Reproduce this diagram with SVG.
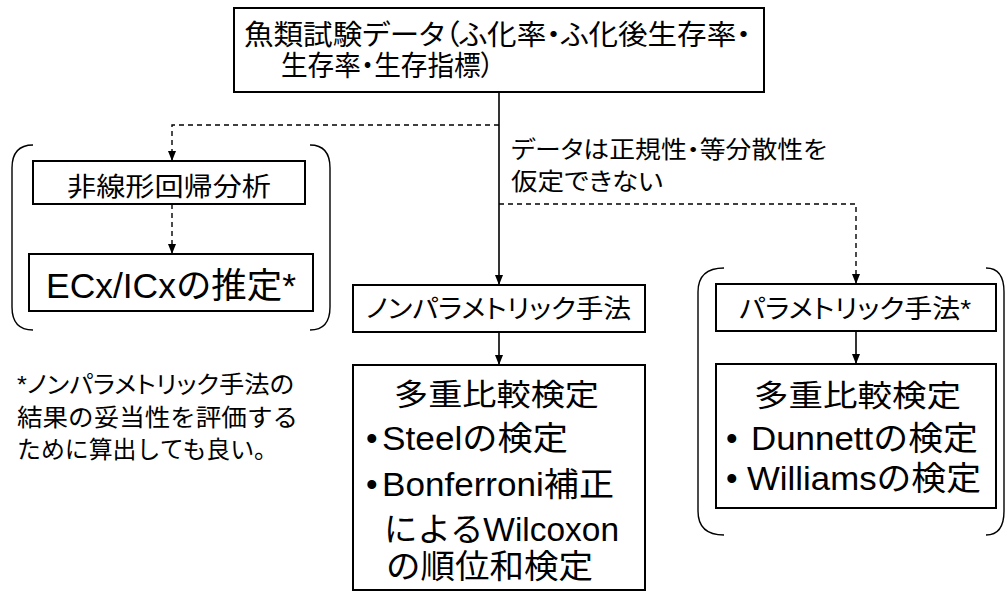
<svg xmlns="http://www.w3.org/2000/svg" width="1006" height="592" viewBox="0 0 1006 592">
<defs>
<marker id="ah" viewBox="0 0 10 8" refX="10" refY="4" markerWidth="10" markerHeight="8" markerUnits="userSpaceOnUse" orient="auto">
<path d="M0,0 L10,4 L0,8 Z" fill="#000"/>
</marker>
<style>
text{font-family:"Liberation Sans","Noto Sans CJK JP",sans-serif;fill:#000}
.box{fill:#fff;stroke:#000;stroke-width:2}
.ln{fill:none;stroke:#000;stroke-width:1.6}
.dash{fill:none;stroke:#000;stroke-width:1.4;stroke-dasharray:5,4}
.br{fill:none;stroke:#000;stroke-width:1.4}
.p{font-feature-settings:"palt"}
</style>
</defs>
<rect width="1006" height="592" fill="#fff"/>
<g id="connectors">
<line class="ln" x1="499" y1="92" x2="499" y2="285" marker-end="url(#ah)"/>
<polyline class="dash" points="499,125 172,125 172,161" marker-end="url(#ah)"/>
<line class="dash" x1="172" y1="204" x2="172" y2="254" marker-end="url(#ah)"/>
<polyline class="dash" points="499,204 856,204 856,284" marker-end="url(#ah)"/>
<line class="ln" x1="499" y1="332" x2="499" y2="365" marker-end="url(#ah)"/>
<line class="ln" x1="856" y1="331" x2="856" y2="364" marker-end="url(#ah)"/>
</g>
<g id="label">
<text x="511" y="158" font-size="24" textLength="316" lengthAdjust="spacingAndGlyphs" class="p">データは正規性・等分散性を</text>
<text x="511" y="190" font-size="24" textLength="152" lengthAdjust="spacingAndGlyphs" class="p">仮定できない</text>
</g>
<g id="brackets">
<path class="br" d="M33,145 Q12,145 12,168 L12,307 Q12,330 33,330"/>
<path class="br" d="M310,145 Q330,145 330,168 L330,307 Q330,330 310,330"/>
<path class="br" d="M724,268 Q698,268 698,292 L698,511 Q698,535 724,535"/>
<path class="br" d="M986,268 Q1004,268 1004,292 L1004,511 Q1004,535 986,535"/>
</g>
<g id="n-top">
<rect class="box" x="234" y="8" width="530" height="84"/>
<text x="244" y="45" font-size="28" textLength="507" lengthAdjust="spacingAndGlyphs" class="p">魚類試験データ（ふ化率・ふ化後生存率・</text>
<text x="281" y="76" font-size="28" textLength="213" lengthAdjust="spacingAndGlyphs" class="p">生存率・生存指標）</text>
</g>
<g id="n-nonlinear">
<rect class="box" x="33" y="161" width="272" height="43"/>
<text x="67" y="196" font-size="26" textLength="204" lengthAdjust="spacingAndGlyphs">非線形回帰分析</text>
</g>
<g id="n-ecx">
<rect class="box" x="29" y="254" width="284" height="57"/>
<text x="46" y="298" font-size="35" textLength="250" lengthAdjust="spacingAndGlyphs">ECx/ICxの推定*</text>
</g>
<g id="footnote">
<text x="17" y="393" font-size="24" textLength="277" lengthAdjust="spacingAndGlyphs" class="p">*ノンパラメトリック手法の</text>
<text x="17" y="426" font-size="24" textLength="281" lengthAdjust="spacingAndGlyphs">結果の妥当性を評価する</text>
<text x="17" y="458" font-size="24" textLength="261" lengthAdjust="spacingAndGlyphs">ために算出しても良い。</text>
</g>
<g id="n-nonparam">
<rect class="box" x="353" y="285" width="292" height="47"/>
<text x="366" y="318" font-size="26" textLength="265" lengthAdjust="spacingAndGlyphs" class="p">ノンパラメトリック手法</text>
</g>
<g id="n-nonparam-tests">
<rect class="box" x="353" y="365" width="292" height="225"/>
<text x="394" y="405" font-size="30" textLength="205" lengthAdjust="spacingAndGlyphs">多重比較検定</text>
<text y="450" font-size="33"><tspan x="366">•</tspan><tspan x="382" textLength="186" lengthAdjust="spacingAndGlyphs">Steelの検定</tspan></text>
<text y="496" font-size="33"><tspan x="366">•</tspan><tspan x="382" textLength="232" lengthAdjust="spacingAndGlyphs">Bonferroni補正</tspan></text>
<text x="384" y="541" font-size="33" textLength="235" lengthAdjust="spacingAndGlyphs">によるWilcoxon</text>
<text x="386" y="578" font-size="33" textLength="207" lengthAdjust="spacingAndGlyphs">の順位和検定</text>
</g>
<g id="n-param">
<rect class="box" x="716" y="284" width="280" height="47"/>
<text x="739" y="318" font-size="26" textLength="232" lengthAdjust="spacingAndGlyphs" class="p">パラメトリック手法*</text>
</g>
<g id="n-param-tests">
<rect class="box" x="716" y="364" width="280" height="144"/>
<text x="754" y="406" font-size="30" textLength="207" lengthAdjust="spacingAndGlyphs">多重比較検定</text>
<text y="450" font-size="33"><tspan x="726">•</tspan><tspan x="751" textLength="227" lengthAdjust="spacingAndGlyphs">Dunnettの検定</tspan></text>
<text y="490" font-size="33"><tspan x="726">•</tspan><tspan x="747" textLength="234" lengthAdjust="spacingAndGlyphs">Williamsの検定</tspan></text>
</g>
</svg>
